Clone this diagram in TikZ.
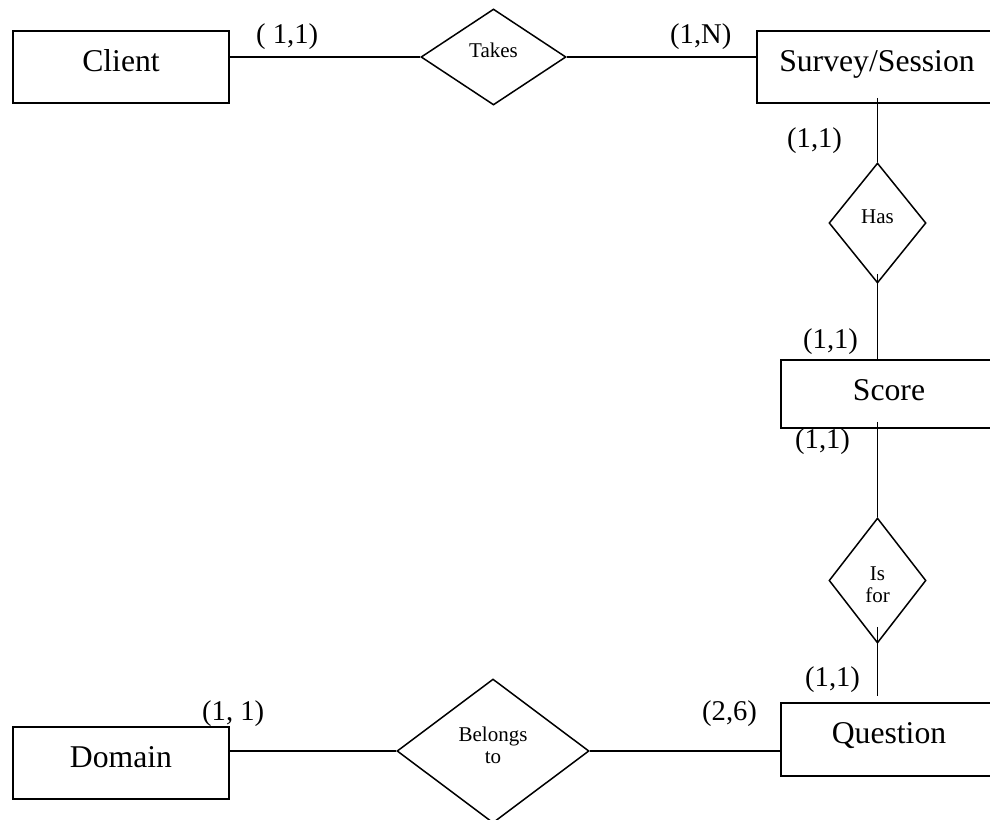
\documentclass[tikz,border=0pt]{standalone}
\usepackage{fontspec}
\setmainfont{Liberation Serif}
\usetikzlibrary{shapes.geometric}
\tikzset{
  conn/.style={line width=1.5pt},
  entity/.style={draw, line width=1.5pt, fill=white, rectangle, inner sep=0pt,
    font=\fontsize{31.7}{38}\selectfont, text height=22pt, text depth=14pt},
  relation/.style={draw, line width=1.5pt, fill=white, diamond, inner sep=0pt,
    font=\fontsize{21}{22}\selectfont, text height=8pt, text depth=8pt},
  card/.style={inner sep=0pt, anchor=base west, font=\fontsize{28.6}{34}\selectfont}
}
\begin{document}
\begin{tikzpicture}[x=1pt,y=-1pt]
\useasboundingbox (0,0) rectangle (990,819);
\clip (0,0) rectangle (990,819);
\fill[white] (0,0) rectangle (990,819);

% cardinality labels
\node[card] (c1) at (256,43) {( 1,1)};
\node[card] (c2) at (670,43) {(1,N)};
\node[card] (c3) at (787,147) {(1,1)};
\node[card] (c4) at (803,348) {(1,1)};
\node[card] (c5) at (795,448) {(1,1)};
\node[card] (c6) at (805,686) {(1,1)};
\node[card] (c7) at (702,720) {(2,6)};
\node[card] (c8) at (202,720) {(1, 1)};

% entities
\node[entity, minimum width=216pt, minimum height=72pt] (client) at (121,67) {Client};
\node[entity, minimum width=240pt, minimum height=72pt] (survey) at (877,67) {Survey/Session};
\node[entity, minimum width=216pt, minimum height=68pt, text height=24pt, text depth=12pt] (score) at (889,394) {Score};
\node[entity, minimum width=216pt, minimum height=73pt] (question) at (889,739.5) {Question};
\node[entity, minimum width=216pt, minimum height=72pt] (domain) at (121,763) {Domain};

% relationships
\node[relation, minimum width=145pt, minimum height=96pt] (takes) at (493.5,57) {Takes};
\node[relation, minimum width=97pt, minimum height=120pt] (has) at (877.5,223) {Has};
\node[relation, minimum width=97pt, minimum height=125pt] (isfor) at (877.5,580.5)
  {\def\arraystretch{1}\begin{tabular}[t]{@{}c@{}}Is\\for\end{tabular}};
\node[relation, minimum width=192pt, minimum height=144pt, text height=2pt, text depth=22pt] (belongs) at (493,751)
  {\def\arraystretch{1}\begin{tabular}[t]{@{}c@{}}Belongs\\to\end{tabular}};

% connectors
\draw[conn] (takes.west -| client.east) -- (takes.west);
\draw[conn] (takes.east) -- (takes.east -| survey.west);
\draw[conn] ([yshift=6pt]survey.south -| has.north) -- (has.north);
\draw[conn] ([yshift=10pt]has.south) -- (has.south |- score.north);
\draw[conn] ([yshift=7pt]score.south -| isfor.north) -- (isfor.north);
\draw[conn] ([yshift=17pt]isfor.south) -- ([yshift=6pt]isfor.south |- question.north);
\draw[conn] (belongs.east) -- (belongs.east -| question.west);
\draw[conn] (belongs.west) -- (belongs.west -| domain.east);
\end{tikzpicture}
\end{document}
